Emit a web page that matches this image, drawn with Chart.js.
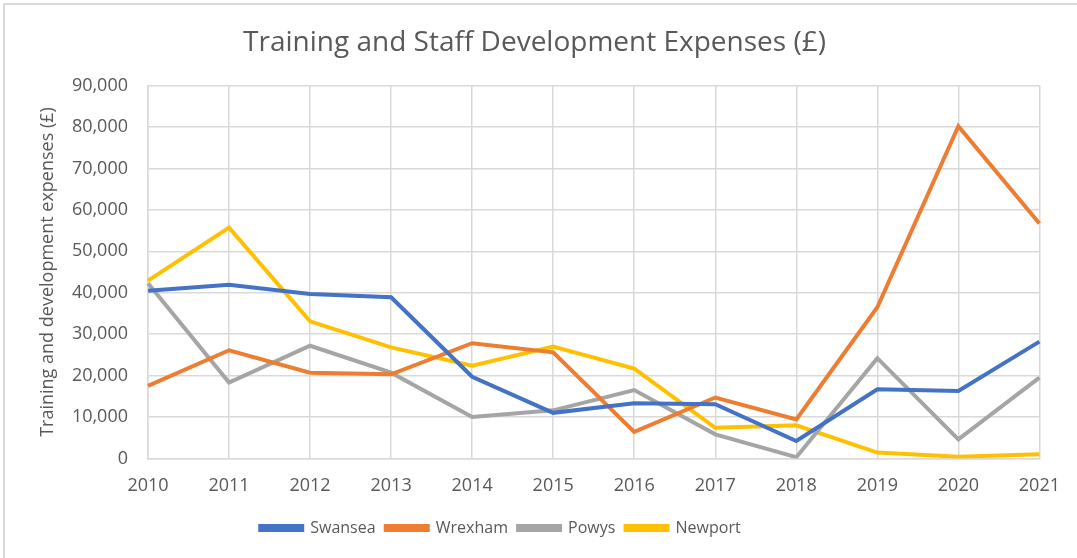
<!DOCTYPE html>
<html>
<head>
<meta charset="utf-8">
<script src="https://cdn.jsdelivr.net/npm/chart.js@4"></script>
<style>
  html, body { margin: 0; padding: 0; background: #fff; overflow: hidden; }
  #wrap { position: relative; width: 1077px; height: 558px; }
  #frame { position: absolute; left: 3px; top: 3px; width: 1100px; height: 600px; border: 2px solid #d9d9d9; box-sizing: border-box; }
  canvas { position: absolute; left: 0; top: 0; }
</style>
</head>
<body>
<div id="wrap">
  <div id="frame"></div>
  <canvas id="lineChart" width="1077" height="558"></canvas>
</div>
<script>
  // Dữ liệu
  const years = ['2010', '2011', '2012', '2013', '2014', '2015', '2016', '2017', '2018', '2019', '2020', '2021'];
  const swansea = [40500, 41900, 39700, 38900, 19700, 11000, 13300, 13100, 4200, 16700, 16300, 28200];
  const wrexham = [17500, 26100, 20700, 20300, 27800, 25600, 6400, 14700, 9400, 36500, 80200, 56700];
  const powys = [42300, 18300, 27200, 20700, 10000, 11600, 16500, 5800, 300, 24200, 4600, 19500];
  const newport = [42900, 55700, 33100, 26800, 22400, 27000, 21700, 7400, 8000, 1400, 400, 1000];

  const textColor = '#595959';
  const gridColor = '#d9d9d9';
  const fontFamily = '"Open Sans", sans-serif';

  function series(label, data, color) {
    return {
      label: label,
      data: data,
      borderColor: color,
      backgroundColor: color,
      borderWidth: 4,
      pointRadius: 0,
      fill: false,
      tension: 0
    };
  }

  // dời chú thích sang trái một chút, giống bản gốc
  const legendShift = {
    id: 'legendShift',
    afterLayout: function (c) {
      if (c.legend) c.legend.left -= 64;
    }
  };

  const ctx = document.getElementById('lineChart').getContext('2d');
  const chart = new Chart(ctx, {
    type: 'line',
    data: {
      labels: years,
      datasets: [
        series('Swansea', swansea, '#4472C4'),
        series('Wrexham', wrexham, '#ED7D31'),
        series('Powys', powys, '#A5A5A5'),
        series('Newport', newport, '#FFC000')
      ]
    },
    plugins: [legendShift],
    options: {
      responsive: false,
      animation: false,
      layout: { padding: { left: 28, right: 36, top: 26, bottom: 12 } },
      plugins: {
        title: {
          display: true,
          text: 'Training and Staff Development Expenses (£)',
          color: textColor,
          font: { family: fontFamily, size: 28, weight: 'normal' },
          padding: { top: 0, bottom: 26 }
        },
        legend: {
          position: 'bottom',
          labels: {
            color: textColor,
            font: { family: fontFamily, size: 16 },
            boxWidth: 42,
            boxHeight: 4,
            padding: 6,
            // thêm khoảng trắng để giãn cách giữa các mục
            generateLabels: function (c) {
              return Chart.defaults.plugins.legend.labels.generateLabels(c).map(function (l) {
                l.text = l.text + ' ';
                return l;
              });
            }
          }
        },
        tooltip: { enabled: false }
      },
      scales: {
        x: {
          offset: false,
          grid: { color: gridColor, lineWidth: 1.5, drawTicks: false },
          border: { color: gridColor, width: 1.5 },
          ticks: { color: textColor, font: { family: fontFamily, size: 18 }, padding: 17, maxRotation: 0 }
        },
        y: {
          min: 0,
          max: 90000,
          afterFit: function (scale) { scale.width = 120; },
          grid: { color: gridColor, lineWidth: 1.5, drawTicks: false },
          border: { color: gridColor, width: 1.5 },
          ticks: {
            stepSize: 10000,
            color: textColor,
            font: { family: fontFamily, size: 18 },
            padding: 20,
            callback: function (v) { return v.toLocaleString('en-GB'); }
          },
          title: {
            display: true,
            text: 'Training and development expenses (£)',
            color: textColor,
            font: { family: fontFamily, size: 18 },
            padding: { top: 9, bottom: 0 }
          }
        }
      }
    }
  });
</script>
</body>
</html>
